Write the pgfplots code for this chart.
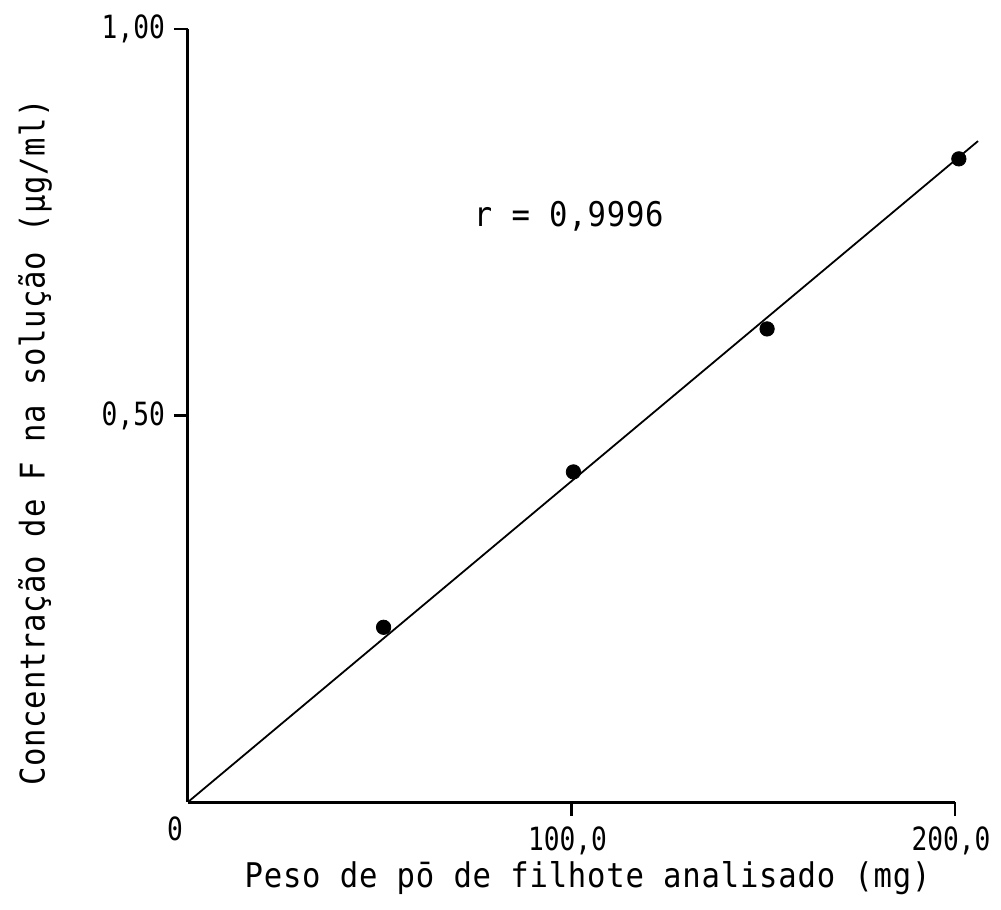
\documentclass[border=0pt]{standalone}
\usepackage{fontspec}
\setmainfont{DejaVu Sans Mono}
\newfontfamily\lblfont[FakeStretch=0.9, LetterSpace=2.3]{DejaVu Sans Mono}
\newfontfamily\tickfont[FakeStretch=0.82]{DejaVu Sans Mono}
\usepackage{pgfplots}
\pgfplotsset{compat=1.18}
\begin{document}
\begin{tikzpicture}
\begin{axis}[
  scale only axis,
  width=383.5pt, height=386.5pt,
  anchor=south west, at={(0,0)},
  xmin=0, xmax=200, ymin=0, ymax=1,
  axis lines*=left,
  axis line style={line width=1.5pt},
  tick align=outside,
  major tick length=7pt,
  tick style={line width=1.1pt, black},
  xtick={100,200},
  xticklabels={{100,0},{200,0}},
  ytick={0.5,1}, yticklabels={{0,50},{1,00}},
  ticklabel style={font=\tickfont\fontsize{16}{19}\selectfont},
  xticklabel style={yshift=-2pt, xshift=-2pt},
  yticklabel style={xshift=-1pt},
  xlabel={\lblfont Peso de pō de filhote analisado (mg)},
  ylabel={\lblfont Concentração de F na solução (µg/ml)},
  label style={font=\fontsize{17}{20}\selectfont},
  xlabel style={at={(axis description cs:0.521,-0.099)}, anchor=center},
  ylabel style={at={(axis description cs:-0.1995,0.465)}, anchor=center, rotate=0},
  clip=false,
]
\addplot[black, line width=0.9pt] coordinates {(0,0) (206,0.855)};
\addplot[only marks, mark=*, mark size=3.6pt, black] coordinates {
  (51,0.226) (100.5,0.427) (151,0.612) (201,0.832)
};
\node[font=\lblfont\fontsize{17}{20}\selectfont] at (axis cs:99.3,0.758) {r = 0,9996};
\node[font=\tickfont\fontsize{16}{19}\selectfont, anchor=north east] at (axis cs:0,0) [xshift=1pt, yshift=-4pt] {0};
\end{axis}
\pgfresetboundingbox
\path[use as bounding box] (-94pt,-54pt) rectangle (406.5pt,401pt);
\end{tikzpicture}
\end{document}
